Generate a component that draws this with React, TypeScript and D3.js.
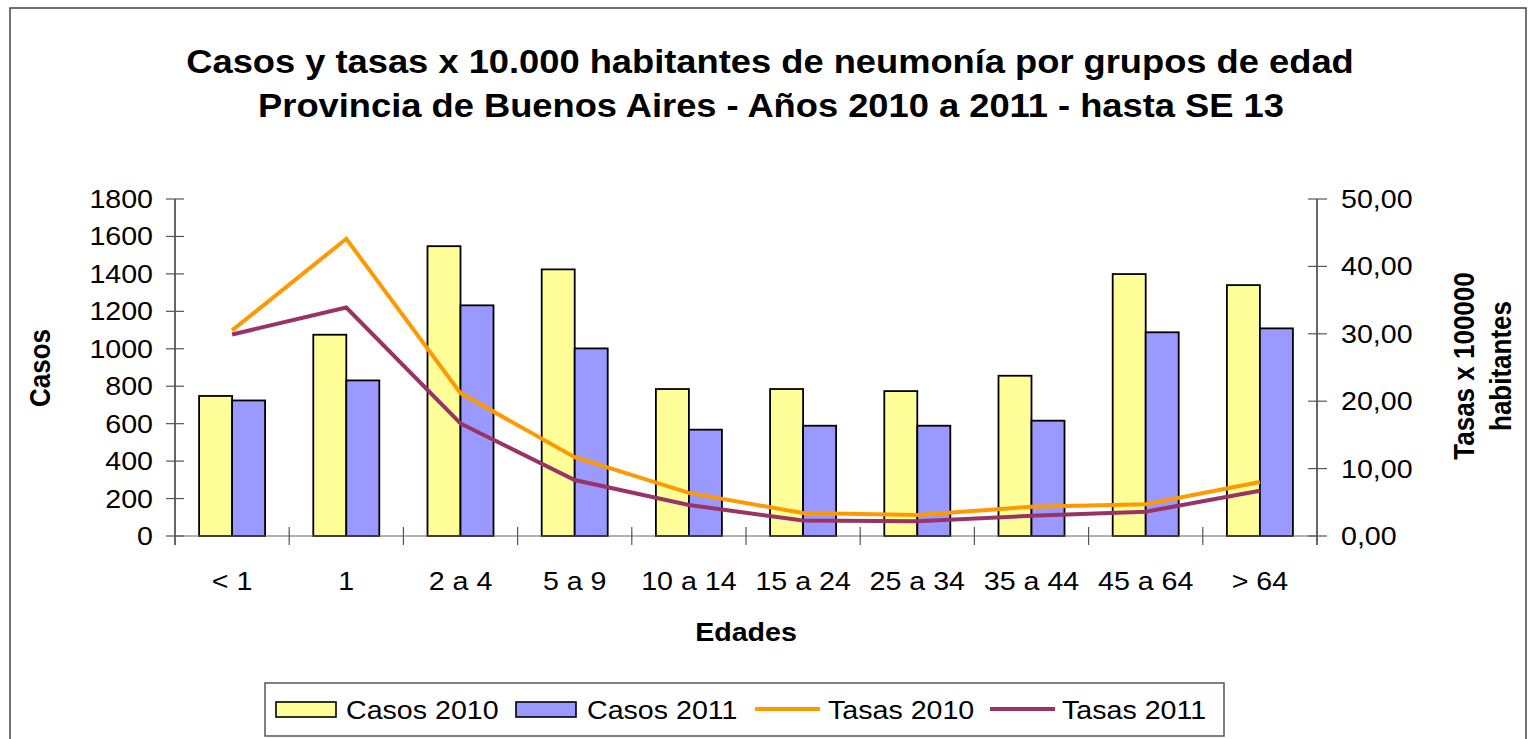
import React from "react";
import * as d3 from "d3";

const categories = ["< 1", "1", "2 a 4", "5 a 9", "10 a 14", "15 a 24", "25 a 34", "35 a 44", "45 a 64", "> 64"];
const casos2010 = [748, 1075, 1548, 1424, 785, 785, 774, 856, 1399, 1340];
const casos2011 = [724, 831, 1232, 1002, 568, 589, 589, 616, 1088, 1109];
const tasas2010 = [30.5, 44.1, 21.2, 11.7, 6.4, 3.4, 3.1, 4.35, 4.7, 8.0];
const tasas2011 = [29.9, 33.9, 16.7, 8.3, 4.6, 2.3, 2.2, 3.0, 3.6, 6.7];
const leftTicks = [0, 200, 400, 600, 800, 1000, 1200, 1400, 1600, 1800];
const rightTicks = [0, 10, 20, 30, 40, 50];
const seriesNames = ["Casos 2010", "Casos 2011", "Tasas 2010", "Tasas 2011"];

const YELLOW = "#FFFF99";
const BLUE = "#9999FF";
const ORANGE = "#FF9900";
const PURPLE = "#993366";
const FONT = "'Liberation Sans', Arial, sans-serif";
const SX = 1.1;

function T({ x, y, size = 26, anchor = "start", weight = "normal", rot = false, children }: any) {
  const tr = rot
    ? `translate(${x},${y}) rotate(-90) scale(1,${SX})`
    : `translate(${x},${y}) scale(${SX},1)`;
  return (
    <text transform={tr} fontSize={size} fontWeight={weight} textAnchor={anchor} fontFamily={FONT} fill="#000">
      {children}
    </text>
  );
}

export default function App() {
  const left = 175, right = 1317, top = 199, bottom = 536;
  const x = d3.scaleBand<string>().domain(categories).range([left, right]).padding(0);
  const bw = x.bandwidth();
  const x1 = d3.scaleBand<string>().domain(["c2010", "c2011"]).range([bw * 0.211, bw * 0.789]).padding(0);
  const yL = d3.scaleLinear().domain([0, 1800]).range([bottom, top]);
  const yR = d3.scaleLinear().domain([0, 50]).range([bottom, top]);
  const line = d3
    .line<number>()
    .x((_, i) => (x(categories[i]) as number) + bw / 2)
    .y((d) => yR(d));

  const fmt = (v: number) => v.toFixed(2).replace(".", ",");

  const legendY = 709;
  const legendItems = [
    { name: seriesNames[0], kind: "bar", color: YELLOW, sx: 276, tx: 346 },
    { name: seriesNames[1], kind: "bar", color: BLUE, sx: 516, tx: 587 },
    { name: seriesNames[2], kind: "line", color: ORANGE, sx: 755, tx: 828 },
    { name: seriesNames[3], kind: "line", color: PURPLE, sx: 990, tx: 1062 },
  ];

  return (
    <svg width={1532} height={739} style={{ position: "absolute", left: 0, top: 0, display: "block" }}>
      <rect x={0} y={0} width={1532} height={739} fill="#fff" />
      <rect x={10} y={8} width={1516} height={760} fill="#fff" stroke="#444" strokeWidth={1.5} />

      {/* Title */}
      <T x={770} y={73} size={33} weight="bold" anchor="middle">
        Casos y tasas x 10.000 habitantes de neumonía por grupos de edad
      </T>
      <T x={771} y={117} size={33} weight="bold" anchor="middle">
        Provincia de Buenos Aires - Años 2010 a 2011 - hasta SE 13
      </T>

      {/* Bars */}
      {categories.map((c, i) => (
        <g key={c}>
          <rect
            x={(x(c) as number) + (x1("c2010") as number)}
            y={yL(casos2010[i])}
            width={x1.bandwidth()}
            height={bottom - yL(casos2010[i])}
            fill={YELLOW}
            stroke="#000"
            strokeWidth={1.8}
          />
          <rect
            x={(x(c) as number) + (x1("c2011") as number)}
            y={yL(casos2011[i])}
            width={x1.bandwidth()}
            height={bottom - yL(casos2011[i])}
            fill={BLUE}
            stroke="#000"
            strokeWidth={1.8}
          />
        </g>
      ))}

      {/* Axes */}
      <line x1={left} x2={left} y1={top} y2={545} stroke="#000" strokeWidth={1.2} />
      <line x1={right} x2={right} y1={top} y2={545} stroke="#000" strokeWidth={1.2} />
      <line x1={left} x2={right} y1={bottom} y2={bottom} stroke="#666" strokeWidth={1.2} />
      {leftTicks.map((t) => (
        <g key={"l" + t}>
          <line x1={166} x2={184} y1={yL(t)} y2={yL(t)} stroke="#555" strokeWidth={1.2} />
          <T x={153} y={yL(t) + 9} anchor="end">{t}</T>
        </g>
      ))}
      {rightTicks.map((t) => (
        <g key={"r" + t}>
          <line x1={1308} x2={1327} y1={yR(t)} y2={yR(t)} stroke="#555" strokeWidth={1.2} />
          <T x={1341} y={yR(t) + 9}>{fmt(t)}</T>
        </g>
      ))}
      {categories.map((c, i) =>
        i === 0 ? null : (
          <line key={"xt" + c} x1={x(c) as number} x2={x(c) as number} y1={527} y2={545} stroke="#555" strokeWidth={1.2} />
        )
      )}
      {categories.map((c) => (
        <T key={"xl" + c} x={(x(c) as number) + bw / 2} y={590} anchor="middle">{c}</T>
      ))}

      {/* Lines */}
      <path d={line(tasas2010) as string} fill="none" stroke={ORANGE} strokeWidth={4} strokeLinejoin="miter" />
      <path d={line(tasas2011) as string} fill="none" stroke={PURPLE} strokeWidth={4} strokeLinejoin="miter" />

      {/* Axis titles */}
      <T x={746} y={641} anchor="middle" weight="bold">Edades</T>
      <T x={50} y={368} anchor="middle" weight="bold" rot>Casos</T>
      <T x={1474} y={366} anchor="middle" weight="bold" rot>Tasas x 100000</T>
      <T x={1511} y={366} anchor="middle" weight="bold" rot>habitantes</T>

      {/* Legend */}
      <rect x={265} y={683} width={959} height={53} fill="#fff" stroke="#555" strokeWidth={1.5} />
      {legendItems.map((it) => (
        <g key={it.name}>
          {it.kind === "bar" ? (
            <rect x={it.sx} y={legendY - 7} width={60} height={15} fill={it.color} stroke="#000" strokeWidth={1.6} />
          ) : (
            <line x1={it.sx} x2={it.sx + 65} y1={legendY} y2={legendY} stroke={it.color} strokeWidth={4} />
          )}
          <T x={it.tx} y={legendY + 10}>{it.name}</T>
        </g>
      ))}
    </svg>
  );
}
